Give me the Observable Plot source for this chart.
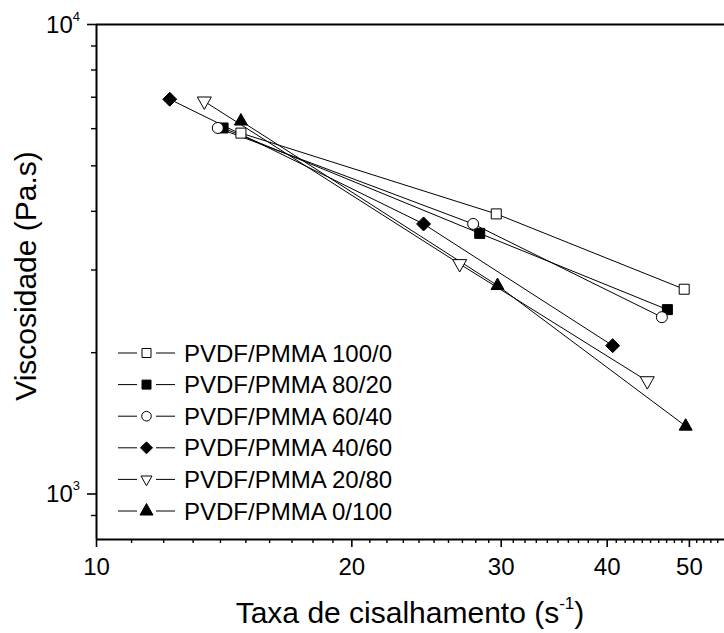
<!DOCTYPE html>
<html><head><meta charset="utf-8">
<script src="https://cdn.jsdelivr.net/npm/d3@7"></script>
<script src="https://cdn.jsdelivr.net/npm/@observablehq/plot@0.6"></script>
<style>
html,body{margin:0;padding:0;background:#fff;}
svg text{font-family:"Liberation Sans",Arial,Helvetica,sans-serif;}
</style>
</head><body><div id="chart"></div>
<script>
// ---- data ----
const seriesNames = ["PVDF/PMMA 100/0","PVDF/PMMA 80/20","PVDF/PMMA 60/40","PVDF/PMMA 40/60","PVDF/PMMA 20/80","PVDF/PMMA 0/100"];
const shear_100_0 = [14.8, 29.6, 49.3];
const visc_100_0  = [5870, 3950, 2730];
const shear_80_20 = [14.1, 28.3, 47.1];
const visc_80_20  = [6020, 3590, 2470];
const shear_60_40 = [13.9, 27.8, 46.4];
const visc_60_40  = [6020, 3760, 2380];
const shear_40_60 = [12.2, 24.3, 40.6];
const visc_40_60  = [6930, 3760, 2070];
const shear_20_80 = [13.4, 26.8, 44.6];
const visc_20_80  = [6860, 3090, 1740];
const shear_0_100 = [14.8, 29.7, 49.5];
const visc_0_100  = [6230, 2780, 1395];

const xMajorTicks = [10, 20, 30, 40, 50];
const xTickLabels = ["10", "20", "30", "40", "50"];
const xMinorTicks = [11,12,13,14,15,16,17,18,19,21,22,23,24,25,26,27,28,29,31,32,33,34,35,36,37,38,39,41,42,43,44,45,46,47,48,49,51,52,53,54];
const yMajorTicks = [1000, 10000];
const yTickBase = ["10", "10"];
const yTickExp = ["3", "4"];
const yMinorTicks = [900, 2000, 3000, 4000, 5000, 6000, 7000, 8000, 9000];
const xTitle = "Taxa de cisalhamento (s";
const xTitleSup = "-1";
const yTitle = "Viscosidade (Pa.s)";

// ---- symbols (r = half size) ----
const rr = size => Math.sqrt(size / Math.PI);
const symSquare = {draw(c, s){const r = rr(s); c.rect(-r, -r, 2*r, 2*r);}};
const symCircle = {draw(c, s){const r = rr(s); c.moveTo(r, 0); c.arc(0, 0, r, 0, 2*Math.PI);}};
const symDiamond = {draw(c, s){const r = rr(s); c.moveTo(0,-r); c.lineTo(r,0); c.lineTo(0,r); c.lineTo(-r,0); c.closePath();}};
const symTriUp = {draw(c, s){const r = rr(s); c.moveTo(0,-1.15*r); c.lineTo(r,0.62*r); c.lineTo(-r,0.62*r); c.closePath();}};
const symTriDown = {draw(c, s){const r = rr(s); c.moveTo(0,1.15*r); c.lineTo(r,-0.62*r); c.lineTo(-r,-0.62*r); c.closePath();}};

const series = [
  {name: seriesNames[0], xs: shear_100_0, ys: visc_100_0, symbol: symSquare, fill: "white", r: 5, lr: 4.5},
  {name: seriesNames[1], xs: shear_80_20, ys: visc_80_20, symbol: symSquare, fill: "black", r: 5, lr: 4.5},
  {name: seriesNames[2], xs: shear_60_40, ys: visc_60_40, symbol: symCircle, fill: "white", r: 5.5, lr: 4.8},
  {name: seriesNames[3], xs: shear_40_60, ys: visc_40_60, symbol: symDiamond, fill: "black", r: 7, lr: 6},
  {name: seriesNames[4], xs: shear_20_80, ys: visc_20_80, symbol: symTriDown, fill: "white", r: 7, lr: 5.5},
  {name: seriesNames[5], xs: shear_0_100, ys: visc_0_100, symbol: symTriUp, fill: "black", r: 6.5, lr: 6.5}
].map(s => ({...s, data: s.xs.map((x, i) => ({x, y: s.ys[i]}))}));

const marks = [];
for (const s of series) {
  marks.push(Plot.line(s.data, {x: "x", y: "y", stroke: "black", strokeWidth: 1}));
}
for (const s of series) {
  marks.push(Plot.dot(s.data, {x: "x", y: "y", symbol: s.symbol, r: s.r, fill: s.fill, stroke: "black", strokeWidth: 1}));
}
marks.push(
  Plot.axisX(xMajorTicks, {tickSize: 8, tickPadding: 10, fontSize: 24, strokeWidth: 1.6, tickFormat: d => xTickLabels[xMajorTicks.indexOf(d)], label: null}),
  Plot.axisX(xMinorTicks, {tickSize: 4, text: null, strokeWidth: 1.4, label: null}),
  Plot.axisY(yMajorTicks, {tickSize: 9, text: null, strokeWidth: 1.6, label: null}),
  Plot.axisY(yMinorTicks, {tickSize: 5, text: null, strokeWidth: 1.4, label: null}),
  Plot.ruleX([10], {strokeWidth: 2}),
  Plot.ruleY([800], {strokeWidth: 2}),
  Plot.ruleY([10000], {strokeWidth: 2})
);

const chart = Plot.plot({
  width: 724, height: 633,
  marginLeft: 96, marginRight: 0, marginTop: 24, marginBottom: 94,
  style: {fontFamily: "'Liberation Sans', Arial, sans-serif", color: "black", background: "white", overflow: "visible"},
  x: {type: "log", domain: [10, 55]},
  y: {type: "log", domain: [800, 10000]},
  marks
});
document.getElementById("chart").append(chart);

const svg = d3.select(chart);
const ys = chart.scale("y");
const xsc = chart.scale("x");

// y tick labels with superscripts
yMajorTicks.forEach((v, i) => {
  const t = svg.append("text").attr("x", 80).attr("y", ys.apply(v) + 8.5)
    .attr("text-anchor", "end").attr("font-size", 24).attr("fill", "black").text(yTickBase[i]);
  t.append("tspan").attr("dy", -12).attr("font-size", 13).text(yTickExp[i]);
});

// axis titles
const xMid = (xsc.range[0] + xsc.range[1]) / 2;
const xt = svg.append("text").attr("x", xMid).attr("y", 623).attr("text-anchor", "middle")
  .attr("font-size", 30).attr("fill", "black").text(xTitle);
xt.append("tspan").attr("dy", -14).attr("font-size", 17).text(xTitleSup);
xt.append("tspan").attr("dy", 14).text(")");

svg.append("text").attr("transform", `translate(36,276) rotate(-90)`).attr("text-anchor", "middle")
  .attr("font-size", 30).attr("fill", "black").text(yTitle);

// legend
const lg = svg.append("g");
series.forEach((s, i) => {
  const cy = 353 + i * 31.6;
  lg.append("line").attr("x1", 118).attr("x2", 137).attr("y1", cy).attr("y2", cy).attr("stroke", "black").attr("stroke-width", 1);
  lg.append("line").attr("x1", 156).attr("x2", 175).attr("y1", cy).attr("y2", cy).attr("stroke", "black").attr("stroke-width", 1);
  lg.append("path").attr("transform", `translate(146.5,${cy})`)
    .attr("d", d3.symbol(s.symbol, Math.PI * s.lr * s.lr)())
    .attr("fill", s.fill).attr("stroke", "black").attr("stroke-width", 1);
  lg.append("text").attr("x", 184).attr("y", cy + 8.5).attr("text-anchor", "start")
    .attr("font-size", 24).attr("fill", "black").text(s.name);
});
</script>
</body></html>
